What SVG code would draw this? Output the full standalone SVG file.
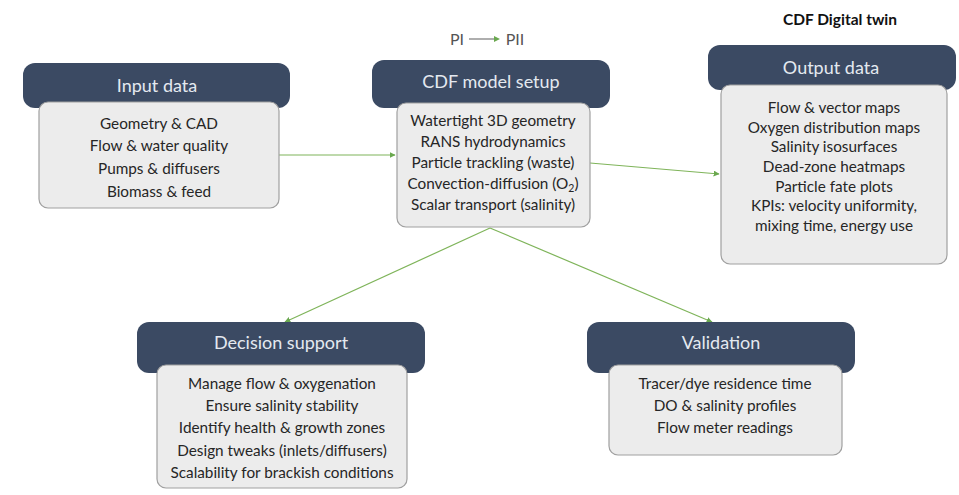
<svg xmlns="http://www.w3.org/2000/svg" width="959" height="495" viewBox="0 0 959 495">
<style>
.hd{fill:#3b4a63;}
.bx{fill:#ececec;stroke:#a0a0a0;stroke-width:1.2;}
.ht{font-family:Lato,"Liberation Sans",sans-serif;font-size:18px;fill:#e4e9f0;text-anchor:middle;}
.bt{font-family:Lato,"Liberation Sans",sans-serif;font-size:15.3px;fill:#262626;text-anchor:middle;}
.tt{font-family:Lato,"Liberation Sans",sans-serif;font-size:15.5px;font-weight:bold;fill:#111;text-anchor:middle;}
.pt{font-family:Lato,"Liberation Sans",sans-serif;font-size:16px;fill:#555;text-anchor:middle;}
.cn{stroke:#7fb45a;stroke-width:1.2;fill:none;marker-end:url(#ah);}
</style>
<defs>
<marker id="ah" viewBox="0 0 10 10" refX="9" refY="5" markerWidth="6" markerHeight="6" orient="auto" markerUnits="userSpaceOnUse">
<path d="M0,0 L10,5 L0,10 z" fill="#6aa84f"/>
</marker>
</defs>
<rect width="959" height="495" fill="#ffffff"/>
<g id="connectors">
<line class="cn" x1="279" y1="155" x2="395" y2="155"/>
<line class="cn" x1="590" y1="163" x2="719" y2="174"/>
<line class="cn" x1="490" y1="228" x2="285" y2="322"/>
<line class="cn" x1="490" y1="228" x2="712" y2="322"/>
<line x1="469" y1="39" x2="494" y2="39" stroke="#777" stroke-width="1.2"/>
<path d="M494,36 L500,39 L494,42 z" fill="#6aa84f"/>
</g>
<g id="label-pi">
<text class="pt" x="457" y="45">PI</text>
<text class="pt" x="515" y="45">PII</text>
</g>
<g id="label-twin">
<text class="tt" x="840" y="25">CDF Digital twin</text>
</g>
<g id="input">
<rect class="hd" x="23" y="63" width="267" height="45" rx="12"/>
<rect class="bx" x="39" y="102" width="240" height="106" rx="9"/>
<text class="ht" x="157" y="92">Input data</text>
<text class="bt" x="159" y="129">Geometry &amp; CAD</text>
<text class="bt" x="159" y="151">Flow &amp; water quality</text>
<text class="bt" x="159" y="174">Pumps &amp; diffusers</text>
<text class="bt" x="159" y="197">Biomass &amp; feed</text>
</g>
<g id="model">
<rect class="hd" x="372" y="60" width="238" height="48" rx="12"/>
<rect class="bx" x="397" y="103" width="193" height="124" rx="9"/>
<text class="ht" x="491" y="88">CDF model setup</text>
<text class="bt" x="493" y="126">Watertight 3D geometry</text>
<text class="bt" x="493" y="147">RANS hydrodynamics</text>
<text class="bt" x="493" y="168">Particle trackling (waste)</text>
<text class="bt" x="493" y="189">Convection-diffusion (O<tspan font-size="10.5" dy="3">2</tspan><tspan dy="-3">)</tspan></text>
<text class="bt" x="493" y="210">Scalar transport (salinity)</text>
</g>
<g id="output">
<rect class="hd" x="708" y="45" width="248" height="45" rx="12"/>
<rect class="bx" x="721" y="85" width="226" height="179" rx="9"/>
<text class="ht" x="831" y="74">Output data</text>
<text class="bt" x="834" y="113">Flow &amp; vector maps</text>
<text class="bt" x="834" y="133">Oxygen distribution maps</text>
<text class="bt" x="834" y="152">Salinity isosurfaces</text>
<text class="bt" x="834" y="172">Dead-zone  heatmaps</text>
<text class="bt" x="834" y="192">Particle fate plots</text>
<text class="bt" x="834" y="211">KPIs: velocity uniformity,</text>
<text class="bt" x="834" y="231">mixing time, energy use</text>
</g>
<g id="decision">
<rect class="hd" x="137" y="322" width="288" height="51" rx="12"/>
<rect class="bx" x="157" y="365" width="250" height="123" rx="9"/>
<text class="ht" x="281" y="349">Decision support</text>
<text class="bt" x="282" y="389">Manage flow &amp; oxygenation</text>
<text class="bt" x="282" y="411">Ensure salinity stability</text>
<text class="bt" x="282" y="433">Identify health &amp; growth zones</text>
<text class="bt" x="282" y="456">Design tweaks (inlets/diffusers)</text>
<text class="bt" x="282" y="478">Scalability for brackish conditions</text>
</g>
<g id="validation">
<rect class="hd" x="587" y="322" width="268" height="51" rx="12"/>
<rect class="bx" x="609" y="365" width="233" height="90" rx="9"/>
<text class="ht" x="721" y="349">Validation</text>
<text class="bt" x="725" y="389">Tracer/dye residence time</text>
<text class="bt" x="725" y="411">DO &amp; salinity profiles</text>
<text class="bt" x="725" y="433">Flow meter readings</text>
</g>
</svg>
